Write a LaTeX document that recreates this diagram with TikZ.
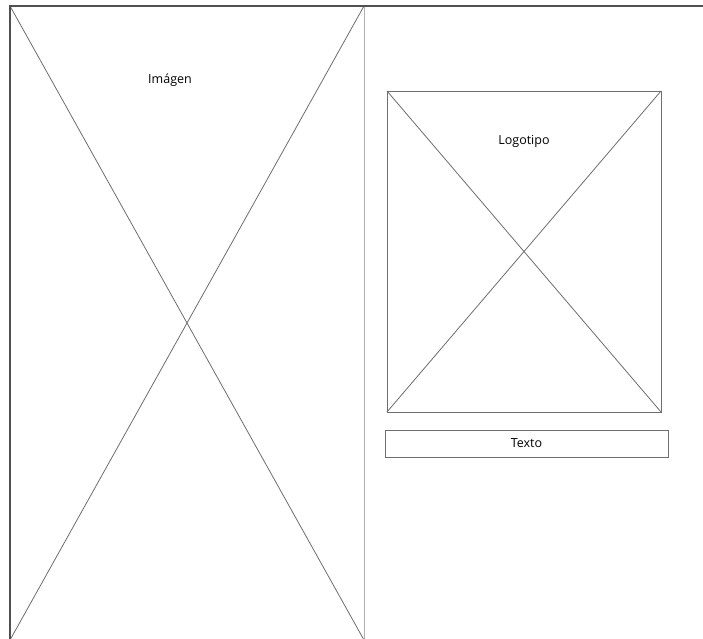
\documentclass[tikz,border=0pt]{standalone}
\usepackage{fontspec}
\setmainfont{Open Sans}
\usetikzlibrary{positioning}
\definecolor{FrameGrey}{RGB}{80,80,80}
\definecolor{LineGrey}{RGB}{110,110,110}
\definecolor{PaleGrey}{RGB}{175,175,175}
\tikzset{
  frame/.style={draw=FrameGrey,line width=1.4pt},
  cross/.style={draw=LineGrey,line width=0.8pt},
  paleline/.style={draw=PaleGrey,line width=1pt},
  placeholder/.style={inner sep=0pt,outer sep=0pt,anchor=north west},
  boxed/.style={placeholder,draw=LineGrey,line width=0.9pt},
  wftext/.style={font=\fontsize{12.5}{14}\selectfont,inner sep=0pt,text=black}
}
\begin{document}
\begin{tikzpicture}[x=1pt,y=-1pt]
  \useasboundingbox[fill=white] (0,0) rectangle (703,638);
  % image placeholder
  \node[placeholder,minimum width=354pt,minimum height=634pt] (imagen) at (10,6) {};
  \draw[cross] (imagen.north west) -- (imagen.south east);
  \draw[cross] (imagen.north east) -- (imagen.south west);
  \draw[paleline] (imagen.north east) -- (imagen.south east);
  \draw[frame] (703,6) -- (imagen.north west) -- (imagen.south west);
  \node[wftext] (imagenlbl) at (170,80) {Imágen};
  % logo placeholder
  \node[boxed,minimum width=274pt,minimum height=321pt] (logo) at (387,91) {};
  \draw[cross] (logo.north west) -- (logo.south east);
  \draw[cross] (logo.north east) -- (logo.south west);
  \node[wftext] (logolbl) at (524,141) {Logotipo};
  % text field
  \node[boxed,minimum width=283pt,minimum height=27pt] (texto) at (385,430) {};
  \node[wftext] (textolbl) at (texto.center) {Texto};
\end{tikzpicture}
\end{document}
